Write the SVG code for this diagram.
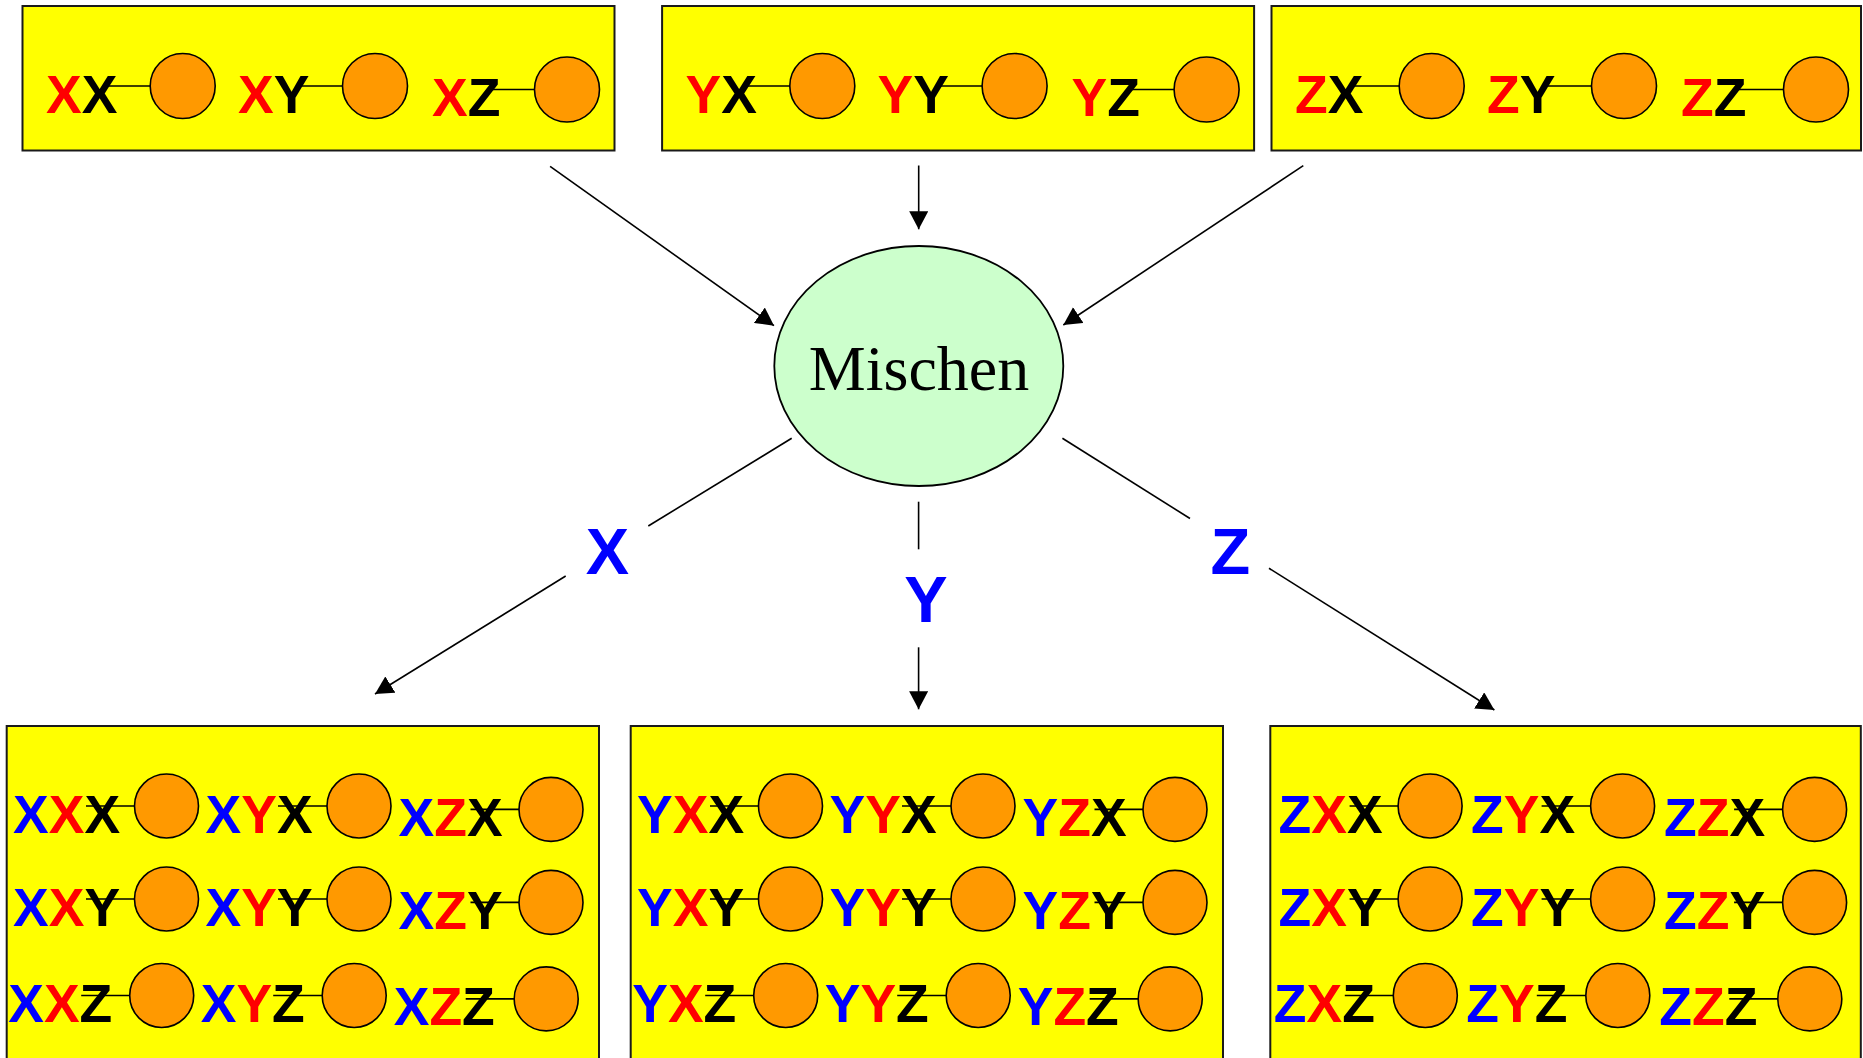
<svg xmlns="http://www.w3.org/2000/svg" width="1863" height="1058" viewBox="0 0 1863 1058">
  <style>
    .box { fill: #FFFF00; stroke: #1a1a1a; stroke-width: 2; }
    .ball { fill: #FF9900; stroke: #000; stroke-width: 1.6; }
    .stem { stroke: #000; stroke-width: 1.6; }
    .lbl { font-family: "Liberation Sans", Arial, sans-serif; font-weight: bold; font-size: 53.5px; }
    .r { fill: #FF0000; }
    .b { fill: #0000FF; }
    .k { fill: #000000; }
    .edge { stroke: #000; stroke-width: 1.6; fill: none; }
    .tag { font-family: "Liberation Sans", Arial, sans-serif; font-weight: bold; font-size: 65px; fill: #0000FF; text-anchor: middle; }
    .mix { fill: #CCFFCC; stroke: #000; stroke-width: 1.8; }
    .mixtxt { font-family: "Liberation Serif", "Times New Roman", serif; font-size: 64px; fill: #000; text-anchor: middle; }
  </style>
  <defs>
    <marker id="arrow" markerUnits="userSpaceOnUse" viewBox="0 0 18 19" refX="18" refY="9.5" markerWidth="18" markerHeight="19" orient="auto">
      <path d="M0,0 L18,9.5 L0,19 z" fill="#000"/>
    </marker>
  </defs>

  <rect width="1863" height="1058" fill="#FFFFFF"/>

  <!-- Parent pools (top row) -->
  <g id="pool-x">
    <rect class="box" x="22.5" y="6" width="592" height="144.5"/>
    <line class="stem" x1="108" y1="86" x2="150" y2="86"/>
    <circle class="ball" cx="182.7" cy="86" r="32.5"/>
    <text class="lbl" x="46" y="112.7"><tspan class="r">X</tspan><tspan class="k">X</tspan></text>
    <line class="stem" x1="300" y1="86" x2="343" y2="86"/>
    <circle class="ball" cx="375" cy="86" r="32.5"/>
    <text class="lbl" x="238" y="112.7"><tspan class="r">X</tspan><tspan class="k">Y</tspan></text>
    <line class="stem" x1="492" y1="89.5" x2="535" y2="89.5"/>
    <circle class="ball" cx="567" cy="89.5" r="32.5"/>
    <text class="lbl" x="432" y="116"><tspan class="r">X</tspan><tspan class="k">Z</tspan></text>
  </g>

  <g id="pool-y" transform="translate(639.6,0)">
    <rect class="box" x="22.5" y="6" width="592" height="144.5"/>
    <line class="stem" x1="108" y1="86" x2="150" y2="86"/>
    <circle class="ball" cx="182.7" cy="86" r="32.5"/>
    <text class="lbl" x="46" y="112.7"><tspan class="r">Y</tspan><tspan class="k">X</tspan></text>
    <line class="stem" x1="300" y1="86" x2="343" y2="86"/>
    <circle class="ball" cx="375" cy="86" r="32.5"/>
    <text class="lbl" x="238" y="112.7"><tspan class="r">Y</tspan><tspan class="k">Y</tspan></text>
    <line class="stem" x1="492" y1="89.5" x2="535" y2="89.5"/>
    <circle class="ball" cx="567" cy="89.5" r="32.5"/>
    <text class="lbl" x="432" y="116"><tspan class="r">Y</tspan><tspan class="k">Z</tspan></text>
  </g>

  <g id="pool-z" transform="translate(1249,0)">
    <rect class="box" x="22.5" y="6" width="589.5" height="144.5"/>
    <line class="stem" x1="105" y1="86" x2="150" y2="86"/>
    <circle class="ball" cx="182.7" cy="86" r="32.5"/>
    <text class="lbl" x="46" y="112.7"><tspan class="r">Z</tspan><tspan class="k">X</tspan></text>
    <line class="stem" x1="297" y1="86" x2="343" y2="86"/>
    <circle class="ball" cx="375" cy="86" r="32.5"/>
    <text class="lbl" x="238" y="112.7"><tspan class="r">Z</tspan><tspan class="k">Y</tspan></text>
    <line class="stem" x1="490" y1="89.5" x2="535" y2="89.5"/>
    <circle class="ball" cx="567" cy="89.5" r="32.5"/>
    <text class="lbl" x="432" y="116"><tspan class="r">Z</tspan><tspan class="k">Z</tspan></text>
  </g>

  <!-- Mixing step -->
  <g id="mischen">
    <ellipse class="mix" cx="918.8" cy="366" rx="144.5" ry="120"/>
    <text class="mixtxt" x="919" y="390">Mischen</text>
  </g>

  <!-- Offspring pools (bottom row) -->
  <g id="offspring-x">
    <rect class="box" x="6.7" y="726" width="592.3" height="340"/>
    <!-- row X -->
    <line class="stem" x1="86" y1="806" x2="134.5" y2="806"/>
    <circle class="ball" cx="166.5" cy="806" r="32"/>
    <text class="lbl" x="13" y="832.5"><tspan class="b">X</tspan><tspan class="r">X</tspan><tspan class="k">X</tspan></text>
    <line class="stem" x1="278" y1="806" x2="327" y2="806"/>
    <circle class="ball" cx="359" cy="806" r="32"/>
    <text class="lbl" x="205.5" y="832.5"><tspan class="b">X</tspan><tspan class="r">Y</tspan><tspan class="k">X</tspan></text>
    <line class="stem" x1="470.5" y1="809.4" x2="519" y2="809.4"/>
    <circle class="ball" cx="551" cy="809.4" r="32"/>
    <text class="lbl" x="398.5" y="835.9"><tspan class="b">X</tspan><tspan class="r">Z</tspan><tspan class="k">X</tspan></text>
    <!-- row Y -->
    <line class="stem" x1="86" y1="899" x2="134.5" y2="899"/>
    <circle class="ball" cx="166.5" cy="899" r="32"/>
    <text class="lbl" x="13" y="925.5"><tspan class="b">X</tspan><tspan class="r">X</tspan><tspan class="k">Y</tspan></text>
    <line class="stem" x1="278" y1="899" x2="327" y2="899"/>
    <circle class="ball" cx="359" cy="899" r="32"/>
    <text class="lbl" x="205.5" y="925.5"><tspan class="b">X</tspan><tspan class="r">Y</tspan><tspan class="k">Y</tspan></text>
    <line class="stem" x1="470.5" y1="902.4" x2="519" y2="902.4"/>
    <circle class="ball" cx="551" cy="902.4" r="32"/>
    <text class="lbl" x="398.5" y="928.9"><tspan class="b">X</tspan><tspan class="r">Z</tspan><tspan class="k">Y</tspan></text>
    <!-- row Z -->
    <line class="stem" x1="81.2" y1="995.5" x2="129.7" y2="995.5"/>
    <circle class="ball" cx="161.7" cy="995.5" r="32"/>
    <text class="lbl" x="8.2" y="1022"><tspan class="b">X</tspan><tspan class="r">X</tspan><tspan class="k">Z</tspan></text>
    <line class="stem" x1="273.2" y1="995.5" x2="322.2" y2="995.5"/>
    <circle class="ball" cx="354.2" cy="995.5" r="32"/>
    <text class="lbl" x="200.7" y="1022"><tspan class="b">X</tspan><tspan class="r">Y</tspan><tspan class="k">Z</tspan></text>
    <line class="stem" x1="465.7" y1="998.9" x2="514.2" y2="998.9"/>
    <circle class="ball" cx="546.2" cy="998.9" r="32"/>
    <text class="lbl" x="393.7" y="1025.4"><tspan class="b">X</tspan><tspan class="r">Z</tspan><tspan class="k">Z</tspan></text>
  </g>

  <g id="offspring-y" transform="translate(624,0)">
    <rect class="box" x="6.7" y="726" width="592.3" height="340"/>
    <line class="stem" x1="86" y1="806" x2="134.5" y2="806"/>
    <circle class="ball" cx="166.5" cy="806" r="32"/>
    <text class="lbl" x="13" y="832.5"><tspan class="b">Y</tspan><tspan class="r">X</tspan><tspan class="k">X</tspan></text>
    <line class="stem" x1="278" y1="806" x2="327" y2="806"/>
    <circle class="ball" cx="359" cy="806" r="32"/>
    <text class="lbl" x="205.5" y="832.5"><tspan class="b">Y</tspan><tspan class="r">Y</tspan><tspan class="k">X</tspan></text>
    <line class="stem" x1="470.5" y1="809.4" x2="519" y2="809.4"/>
    <circle class="ball" cx="551" cy="809.4" r="32"/>
    <text class="lbl" x="398.5" y="835.9"><tspan class="b">Y</tspan><tspan class="r">Z</tspan><tspan class="k">X</tspan></text>
    <line class="stem" x1="86" y1="899" x2="134.5" y2="899"/>
    <circle class="ball" cx="166.5" cy="899" r="32"/>
    <text class="lbl" x="13" y="925.5"><tspan class="b">Y</tspan><tspan class="r">X</tspan><tspan class="k">Y</tspan></text>
    <line class="stem" x1="278" y1="899" x2="327" y2="899"/>
    <circle class="ball" cx="359" cy="899" r="32"/>
    <text class="lbl" x="205.5" y="925.5"><tspan class="b">Y</tspan><tspan class="r">Y</tspan><tspan class="k">Y</tspan></text>
    <line class="stem" x1="470.5" y1="902.4" x2="519" y2="902.4"/>
    <circle class="ball" cx="551" cy="902.4" r="32"/>
    <text class="lbl" x="398.5" y="928.9"><tspan class="b">Y</tspan><tspan class="r">Z</tspan><tspan class="k">Y</tspan></text>
    <line class="stem" x1="81.2" y1="995.5" x2="129.7" y2="995.5"/>
    <circle class="ball" cx="161.7" cy="995.5" r="32"/>
    <text class="lbl" x="8.2" y="1022"><tspan class="b">Y</tspan><tspan class="r">X</tspan><tspan class="k">Z</tspan></text>
    <line class="stem" x1="273.2" y1="995.5" x2="322.2" y2="995.5"/>
    <circle class="ball" cx="354.2" cy="995.5" r="32"/>
    <text class="lbl" x="200.7" y="1022"><tspan class="b">Y</tspan><tspan class="r">Y</tspan><tspan class="k">Z</tspan></text>
    <line class="stem" x1="465.7" y1="998.9" x2="514.2" y2="998.9"/>
    <circle class="ball" cx="546.2" cy="998.9" r="32"/>
    <text class="lbl" x="393.7" y="1025.4"><tspan class="b">Y</tspan><tspan class="r">Z</tspan><tspan class="k">Z</tspan></text>
  </g>

  <g id="offspring-z" transform="translate(1263.6,0)">
    <rect class="box" x="6.7" y="726" width="590.5" height="340"/>
    <line class="stem" x1="86" y1="806" x2="134.5" y2="806"/>
    <circle class="ball" cx="166.5" cy="806" r="32"/>
    <text class="lbl" x="15" y="832.5"><tspan class="b">Z</tspan><tspan class="r">X</tspan><tspan class="k">X</tspan></text>
    <line class="stem" x1="278" y1="806" x2="327" y2="806"/>
    <circle class="ball" cx="359" cy="806" r="32"/>
    <text class="lbl" x="207.5" y="832.5"><tspan class="b">Z</tspan><tspan class="r">Y</tspan><tspan class="k">X</tspan></text>
    <line class="stem" x1="470.5" y1="809.4" x2="519" y2="809.4"/>
    <circle class="ball" cx="551" cy="809.4" r="32"/>
    <text class="lbl" x="400.5" y="835.9"><tspan class="b">Z</tspan><tspan class="r">Z</tspan><tspan class="k">X</tspan></text>
    <line class="stem" x1="86" y1="899" x2="134.5" y2="899"/>
    <circle class="ball" cx="166.5" cy="899" r="32"/>
    <text class="lbl" x="15" y="925.5"><tspan class="b">Z</tspan><tspan class="r">X</tspan><tspan class="k">Y</tspan></text>
    <line class="stem" x1="278" y1="899" x2="327" y2="899"/>
    <circle class="ball" cx="359" cy="899" r="32"/>
    <text class="lbl" x="207.5" y="925.5"><tspan class="b">Z</tspan><tspan class="r">Y</tspan><tspan class="k">Y</tspan></text>
    <line class="stem" x1="470.5" y1="902.4" x2="519" y2="902.4"/>
    <circle class="ball" cx="551" cy="902.4" r="32"/>
    <text class="lbl" x="400.5" y="928.9"><tspan class="b">Z</tspan><tspan class="r">Z</tspan><tspan class="k">Y</tspan></text>
    <line class="stem" x1="81.2" y1="995.5" x2="129.7" y2="995.5"/>
    <circle class="ball" cx="161.7" cy="995.5" r="32"/>
    <text class="lbl" x="10.2" y="1022"><tspan class="b">Z</tspan><tspan class="r">X</tspan><tspan class="k">Z</tspan></text>
    <line class="stem" x1="273.2" y1="995.5" x2="322.2" y2="995.5"/>
    <circle class="ball" cx="354.2" cy="995.5" r="32"/>
    <text class="lbl" x="202.7" y="1022"><tspan class="b">Z</tspan><tspan class="r">Y</tspan><tspan class="k">Z</tspan></text>
    <line class="stem" x1="465.7" y1="998.9" x2="514.2" y2="998.9"/>
    <circle class="ball" cx="546.2" cy="998.9" r="32"/>
    <text class="lbl" x="395.7" y="1025.4"><tspan class="b">Z</tspan><tspan class="r">Z</tspan><tspan class="k">Z</tspan></text>
  </g>

  <!-- Connectors -->
  <g id="connectors">
    <line class="edge" x1="550.1" y1="166.3" x2="774" y2="325.7" marker-end="url(#arrow)"/>
    <line class="edge" x1="918.7" y1="165.5" x2="918.7" y2="229.3" marker-end="url(#arrow)"/>
    <line class="edge" x1="1303.3" y1="165.7" x2="1063.3" y2="325" marker-end="url(#arrow)"/>

    <line class="edge" x1="791.7" y1="438.3" x2="648.3" y2="526"/>
    <line class="edge" x1="565.7" y1="576" x2="375" y2="694" marker-end="url(#arrow)"/>
    <text class="tag" x="607.5" y="574.3">X</text>

    <line class="edge" x1="918.6" y1="501.7" x2="918.6" y2="549.3"/>
    <line class="edge" x1="918.6" y1="647.3" x2="918.6" y2="709.3" marker-end="url(#arrow)"/>
    <text class="tag" x="926" y="622.3">Y</text>

    <line class="edge" x1="1062.4" y1="438.3" x2="1190" y2="518.5"/>
    <line class="edge" x1="1269" y1="568.3" x2="1494.4" y2="710" marker-end="url(#arrow)"/>
    <text class="tag" x="1230.4" y="574.3">Z</text>
  </g>
</svg>
